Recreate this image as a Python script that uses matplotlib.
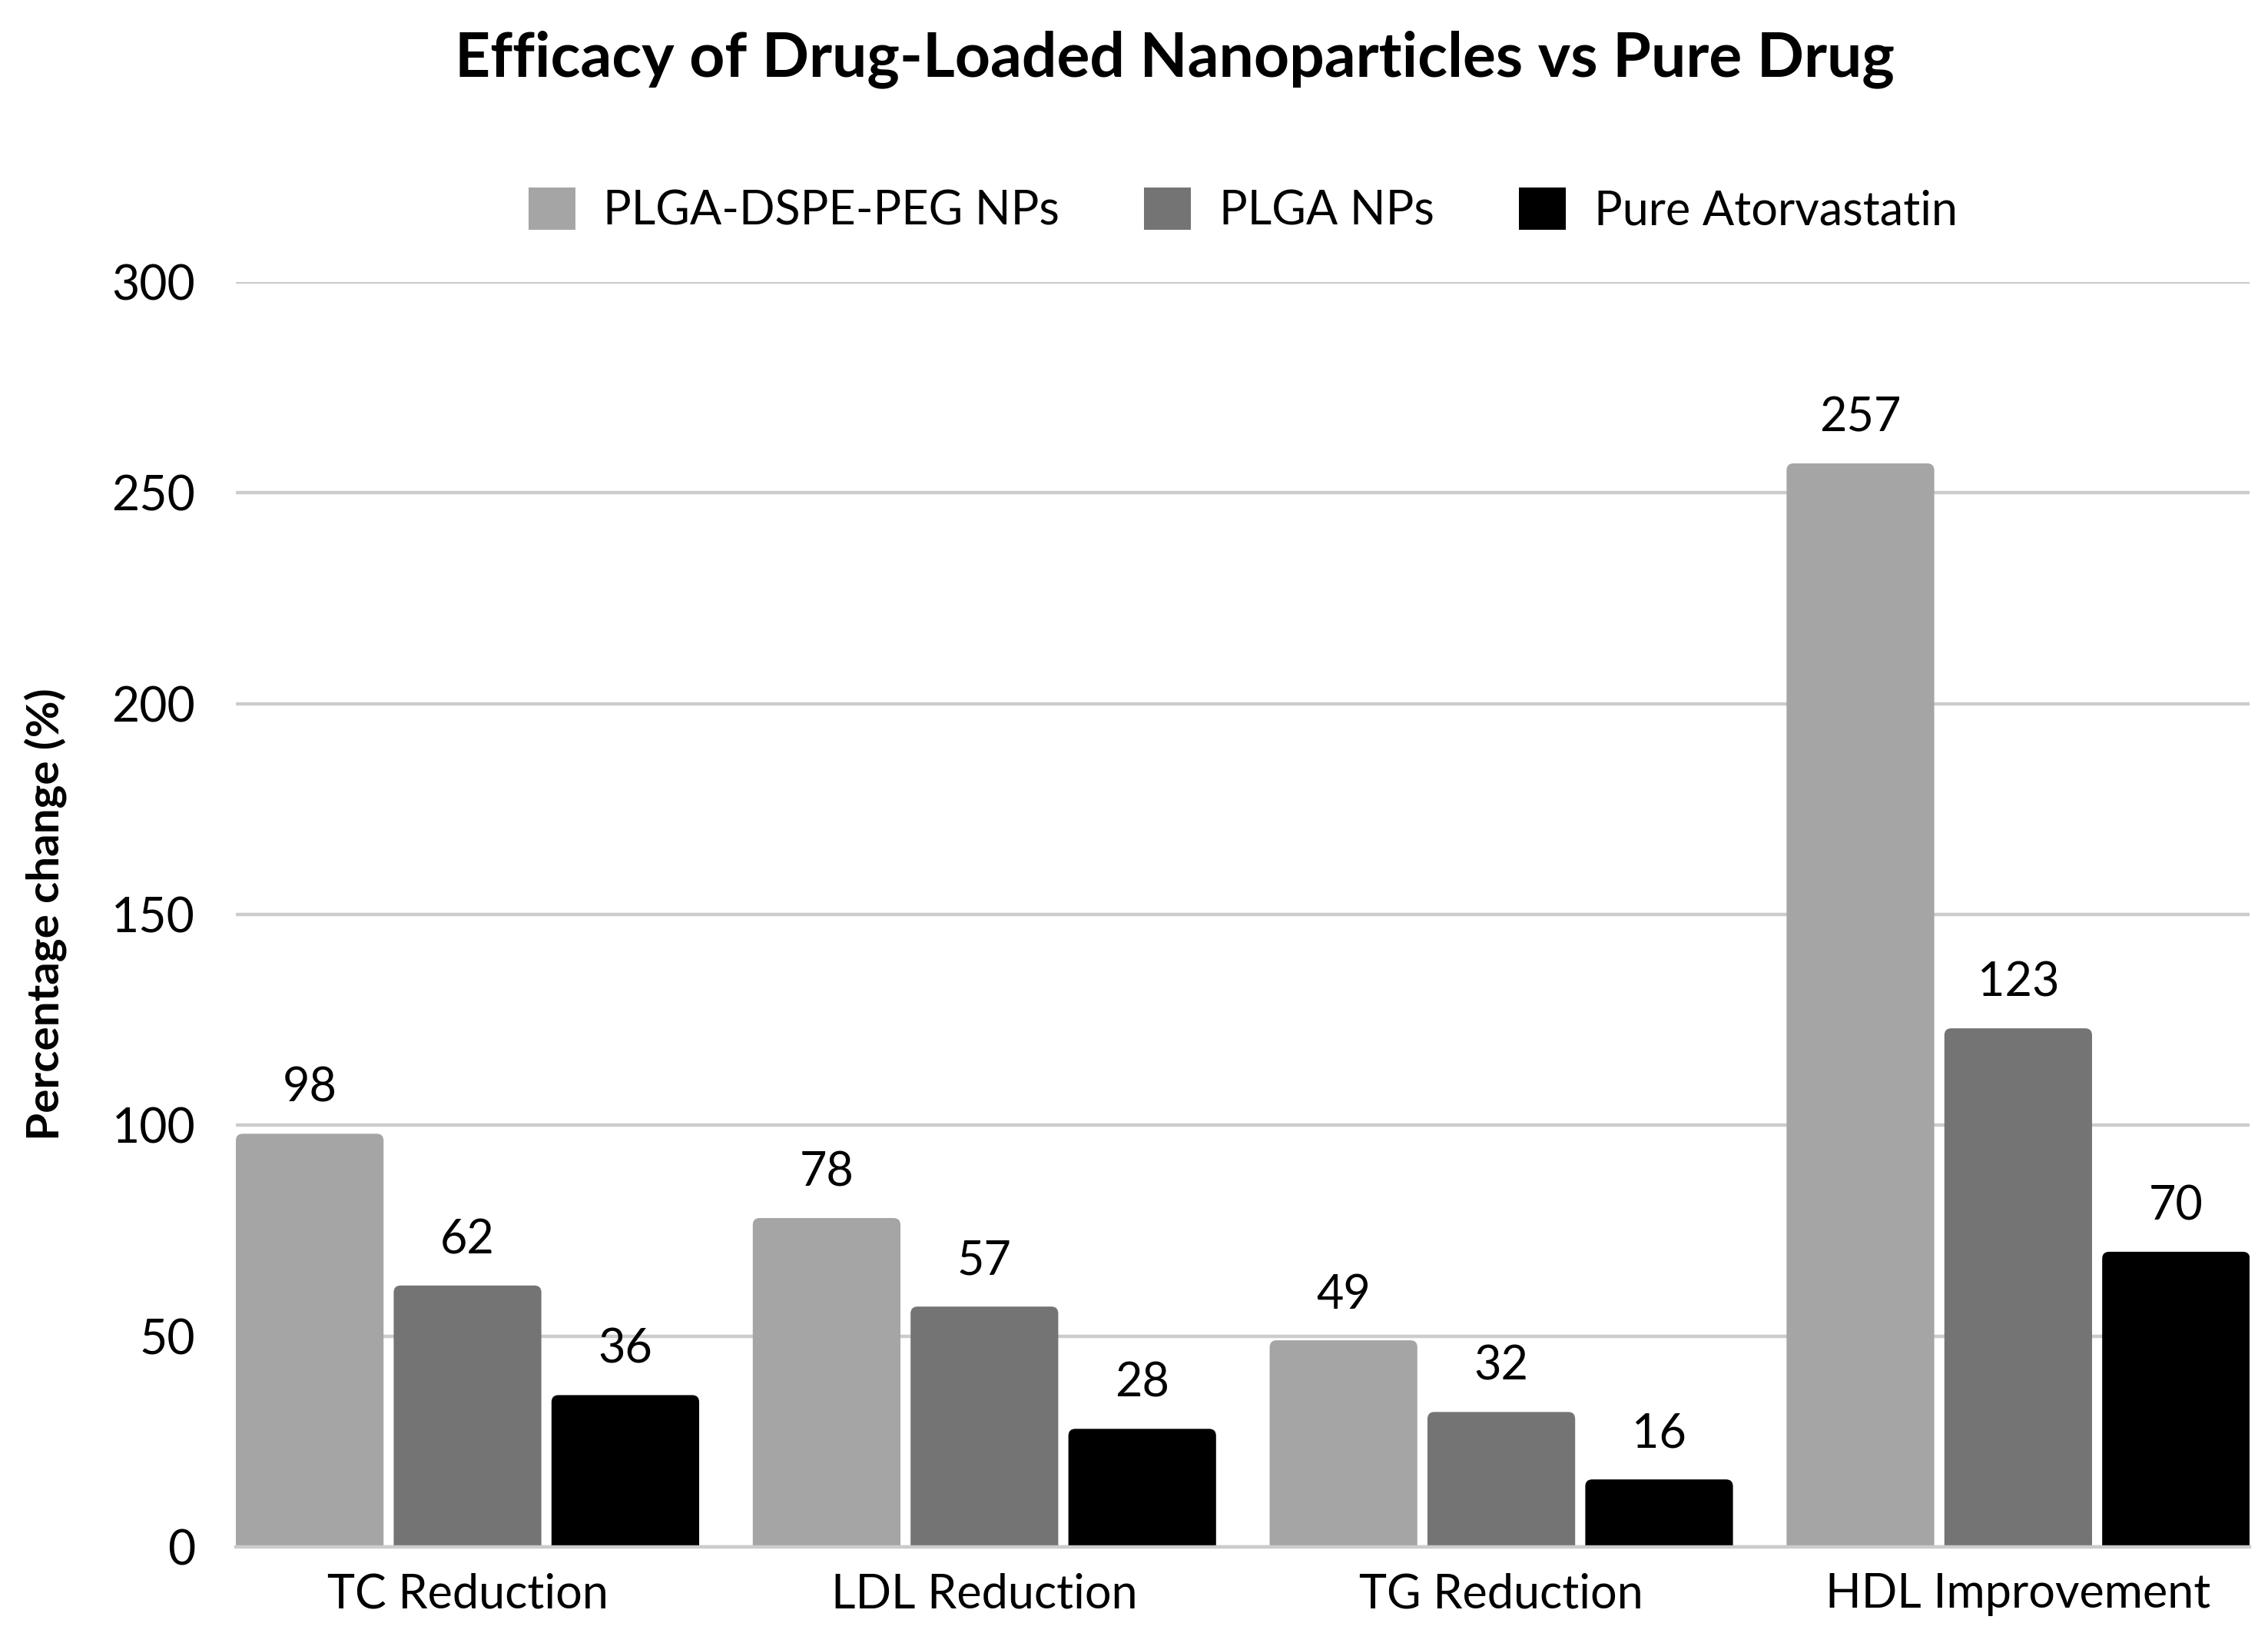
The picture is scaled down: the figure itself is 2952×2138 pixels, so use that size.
import matplotlib
matplotlib.use("Agg")
import matplotlib.pyplot as plt
import numpy as np
from matplotlib.patches import FancyBboxPatch, Patch

categories = ["TC Reduction", "LDL Reduction", "TG Reduction", "HDL Improvement"]
series_names = ["PLGA-DSPE-PEG NPs", "PLGA NPs", "Pure Atorvastatin"]
plga_dspe_peg = [98, 78, 49, 257]
plga = [62, 57, 32, 123]
pure_atorvastatin = [36, 28, 16, 70]
colors = ["#a5a5a5", "#747474", "#000000"]
yticks = [0, 50, 100, 150, 200, 250, 300]

FONT = ["Lato", "DejaVu Sans"]
plt.rcParams["font.family"] = FONT

W, H, DPI = 2952, 2138, 200
fig = plt.figure(figsize=(W / DPI, H / DPI), dpi=DPI)
ax = fig.add_axes([0.104, 0.0585, 0.888, 0.7698])

series = [plga_dspe_peg, plga, pure_atorvastatin]
bw = 0.2857
gap = 0.0196
offsets = [-(bw + gap), 0.0, bw + gap]
x = np.arange(len(categories))

xmin = offsets[0] - bw / 2
xmax = len(categories) - 1 + offsets[-1] + bw / 2
ax.set_xlim(xmin, xmax)
ax.set_ylim(0, 300)

# rounding geometry
ax_w_px = 0.888 * W
ax_h_px = 0.7698 * H
px_per_x = ax_w_px / (xmax - xmin)
px_per_y = ax_h_px / 300.0
r_px = 9
r_x = r_px / px_per_x
r_y = r_px / px_per_y
aspect = px_per_x / px_per_y

for s, (vals, col, name) in enumerate(zip(series, colors, series_names)):
    for i, v in enumerate(vals):
        left = x[i] + offsets[s] - bw / 2
        p = FancyBboxPatch((left, -3 * r_y), bw, v + 3 * r_y,
                           boxstyle=f"round,pad=0,rounding_size={r_x}",
                           mutation_aspect=aspect, fc=col, ec="none", zorder=3)
        ax.add_patch(p)
        p.set_clip_path(ax.patch)
        ax.annotate(f"{v}", (x[i] + offsets[s], v), xytext=(0, 11),
                    textcoords="offset points", ha="center", va="bottom",
                    fontsize=22, color="#000000")

ax.set_yticks(yticks)
ax.set_yticklabels([str(t) for t in yticks], fontsize=22.5)
ax.set_xticks(x)
ax.set_xticklabels(categories, fontsize=22)
ax.tick_params(axis="y", length=0, pad=19)
ax.tick_params(axis="x", length=0, pad=12)
ax.grid(axis="y", color="#cccccc", linewidth=1.6, zorder=0)
ax.set_axisbelow(True)
for sp in ["top", "right", "left"]:
    ax.spines[sp].set_visible(False)
ax.spines["bottom"].set_color("#cccccc")
ax.spines["bottom"].set_linewidth(1.6)
ax.spines["bottom"].set_zorder(4)

ax.set_ylabel("Percentage change (%)", fontsize=21, fontweight="bold")
ax.yaxis.set_label_coords(-0.084, 0.5)

fig.text(0.518, 0.964, "Efficacy of Drug-Loaded Nanoparticles vs Pure Drug",
         ha="center", va="center", fontsize=29, fontweight="bold")

handles = [Patch(fc=c, ec="none") for c in colors]
leg = fig.legend(handles, series_names, loc="center",
                 bbox_to_anchor=(0.104 + 0.888 / 2, 0.872), ncol=3,
                 frameon=False, fontsize=22, handlelength=1.0, handleheight=1.0,
                 handletextpad=0.6, columnspacing=1.8)

fig.savefig("out.png", dpi=DPI, facecolor="white")
